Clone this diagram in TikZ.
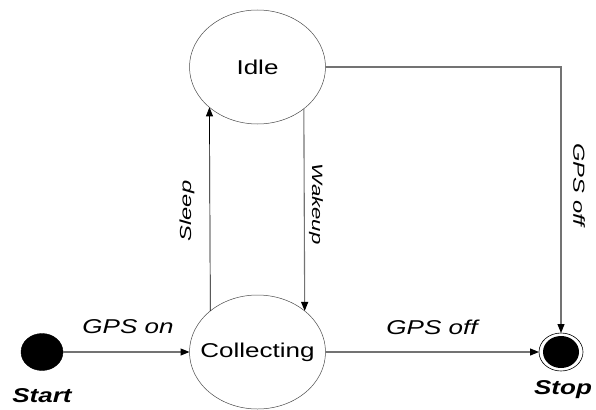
\documentclass[tikz,border=0pt]{standalone}
\usepackage{fontspec}
\setmainfont{Liberation Sans}
\usetikzlibrary{shapes.geometric,arrows.meta}
% labels are set in a horizontally widened sans face
\newcommand{\wide}[1]{\scalebox{1.3}[1]{#1}}
\newcommand{\wider}[1]{\scalebox{1.48}[1]{#1}}
\begin{document}
\begin{tikzpicture}[x=1pt,y=-1pt,
  state/.style={ellipse, draw=black!70, line width=0.5pt, fill=white,
    minimum width=136pt, minimum height=114pt, inner sep=0pt, outer sep=0pt},
  big/.style={font=\fontsize{20}{24}\selectfont},
  tip/.style={-{Triangle[length=9pt,width=7pt,black]}},
  flow/.style={draw=black!55, line width=1.1pt, tip},
  thinflow/.style={draw=black, line width=0.7pt, tip},
  sidelab/.style={font=\fontsize{16}{19}\selectfont\itshape, inner sep=0pt}
]
\useasboundingbox (0,0) rectangle (596,409);

% states
\node[state, label={[big]center:\wide{Idle}}] (idle) at (257.5,67) {};
\node[state, label={[big]center:\wide{Collecting}}] (coll) at (257.5,352) {};

% initial and final pseudo-states
\node[ellipse, fill=black, draw=black, minimum width=42pt, minimum height=37pt,
  inner sep=0pt, outer sep=0pt] (start) at (42,352) {};
\node[ellipse, draw=black, line width=0.6pt, fill=white, minimum width=44pt,
  minimum height=38pt, inner sep=0pt, outer sep=0pt,
  path picture={\fill[black] (path picture bounding box.center) ellipse (18pt and 16pt);}]
  (stop) at (561,352) {};

\node[big, font=\fontsize{20}{24}\selectfont\bfseries\itshape] (startlab) at (42,396) {\wide{Start}};
\node[big, font=\fontsize{20}{24}\selectfont\bfseries\itshape] (stoplab) at (563,390) {\wide{Stop}};

% transitions
\draw[flow] (start) -- (coll);
\draw[flow] (coll.east) -- (stop.west);
\draw[thinflow] (coll.139.3) -- (idle.220.7);
\draw[flow] (idle.318.2) -- (coll.41.8);
\draw[flow] (idle.east) -| (stop.north);

% transition labels
\node[big, font=\fontsize{20}{24}\selectfont\itshape] (lgpson) at (128,327) {\wide{GPS on}};
\node[big, font=\fontsize{20}{24}\selectfont\itshape] (lgpsoff) at (432,327) {\wide{GPS off}};
\node[sidelab, rotate=90] (lsleep) at (187,211) {\wider{Sleep}};
\node[sidelab, font=\fontsize{15}{18}\selectfont\itshape, rotate=-90] (lwake) at (316,204) {\wider{Wakeup}};
\node[sidelab, rotate=-90] (lgpsoff2) at (579,185) {\wider{GPS off}};
\end{tikzpicture}
\end{document}
